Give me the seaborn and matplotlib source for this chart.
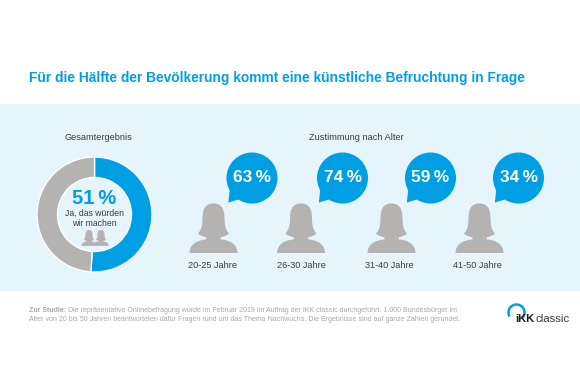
import matplotlib
matplotlib.use('Agg')
import matplotlib.pyplot as plt
import seaborn as sns
from matplotlib.patches import Arc, Circle, PathPatch, Polygon, Rectangle
from matplotlib.path import Path

title = 'Für die Hälfte der Bevölkerung kommt eine künstliche Befruchtung in Frage'
donut_values = [51, 49]
age_labels = ['20-25 Jahre', '26-30 Jahre', '31-40 Jahre', '41-50 Jahre']
age_values = [63, 74, 59, 34]

BLUE = '#009FE3'
GREY = '#B5B2B2'
BAND = '#E6F4FC'
TEXT = '#3C3C3B'

sns.set_theme(style='white')
plt.rcParams['font.family'] = ['Liberation Sans', 'DejaVu Sans']

fig = plt.figure(figsize=(5.8, 3.85), dpi=100)
ax = fig.add_axes([0, 0, 1, 1])


def person(cx, top, scale=1.0, color=GREY):
    # right half of the outline, mirrored for the left
    right = [(0, 0), (9, 0), (11, 7), (11, 15), (11, 22), (12, 26), (15.5, 30),
             (14, 32), (10, 33), (7, 34), (7, 35), (7, 36), (8, 36),
             (18, 37), (24, 42), (24, 49.5)]
    left = [(-x, y) for x, y in reversed(right)]
    pts = [(cx + x * scale, top + y * scale) for x, y in right + left]
    codes = [Path.MOVETO] + [Path.CURVE4] * 15 + [Path.LINETO] + [Path.CURVE4] * 15
    ax.add_patch(PathPatch(Path(pts, codes), fc=color, ec='none', zorder=3))


ax.add_patch(Rectangle((0, 104), 580, 187, fc=BAND, ec='none', zorder=0))

ax.text(29, 78, title, color=BLUE, fontsize=9.93, fontweight='bold', va='center')

# total result
ax.text(98, 138, 'Gesamtergebnis', color=TEXT, fontsize=6.6, ha='center', va='center')
ax.pie(donut_values, colors=[BLUE, GREY], startangle=-90, counterclock=True,
       center=(94.5, 214.5), radius=57.5, frame=True,
       wedgeprops=dict(width=20.5, edgecolor='white', linewidth=1))
ax.text(94.5, 199, f'{donut_values[0]}\u2009%', color=BLUE, fontsize=14.5,
        fontweight='bold', ha='center', va='center')
ax.text(94.5, 213, 'Ja, das würden', color=TEXT, fontsize=6.2, ha='center', va='center')
ax.text(94.5, 223, 'wir machen', color=TEXT, fontsize=6.2, ha='center', va='center')
person(89, 230, 0.32)
person(101, 230, 0.32)

# agreement by age
ax.text(356, 138, 'Zustimmung nach Alter', color=TEXT, fontsize=6.7, ha='center', va='center')
person_x = [213.5, 301, 391.5, 479.5]
label_x = [213, 301, 389, 477.5]
bubble_x = [252, 342.5, 430.5, 518.5]
for px, lx, bx, label, val in zip(person_x, label_x, bubble_x, age_labels, age_values):
    person(px, 203.5)
    ax.text(lx, 266, label, color=TEXT, fontsize=6.6, ha='center', va='center')
    ax.add_patch(Circle((bx, 178), 25.5, fc=BLUE, ec='none', zorder=3))
    ax.add_patch(Polygon([(bx - 22, 188), (bx - 23.7, 202.5), (bx - 12, 199)],
                         fc=BLUE, ec='none', zorder=3))
    ax.text(bx, 177.5, f'{val}\u2009%', color='white', fontsize=12.4,
            fontweight='bold', ha='center', va='center', zorder=4)

# study note
note = ax.text(29, 310, 'Zur Studie:', color='#A8A8A8', fontsize=5.03,
               fontweight='bold', va='center')
ax.annotate(' Die repräsentative Onlinebefragung wurde im Februar 2019 im Auftrag der IKK classic '
            'durchgeführt. 1.000 Bundesbürger im', xy=(1, 0.5), xycoords=note,
            color='#A8A8A8', fontsize=5.03, va='center')
ax.text(29, 319.5, 'Alter von 20 bis 50 Jahren beantworteten dafür Fragen rund um das Thema Nachwuchs. '
        'Die Ergebnisse sind auf ganze Zahlen gerundet.', color='#A8A8A8', fontsize=5.03, va='center')

# logo
ax.add_patch(Arc((516.5, 312.5), 16, 16, theta1=150, theta2=40, color=BLUE, lw=1.8))
ax.text(515, 319.5, 'iKK', color='#1D1D1B', fontsize=8.0, fontweight='bold', va='center')
ax.text(535.5, 319.5, 'classic', color='#3C3C3B', fontsize=8.2, va='center')

ax.set_xlim(0, 580)
ax.set_ylim(385, 0)
ax.set_aspect('auto')
ax.axis('off')
fig.savefig('out.png', dpi=100, facecolor='white')
